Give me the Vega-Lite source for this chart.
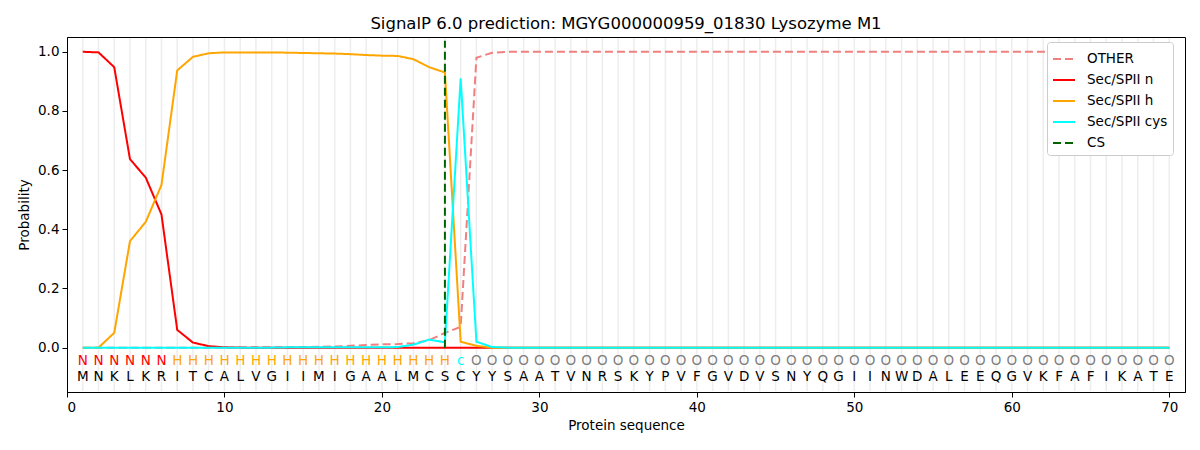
{
 "$schema": "https://vega.github.io/schema/vega-lite/v6.json",
 "width": 1118,
 "height": 355,
 "autosize": {"type": "none"},
 "padding": {"left": 67, "top": 37, "right": 15, "bottom": 58},
 "title": {"text": "SignalP 6.0 prediction: MGYG000000959_01830 Lysozyme M1", "fontSize": 16.5, "fontWeight": "normal", "font": "DejaVu Sans", "color": "black", "offset": 5},
 "config": {
  "font": "DejaVu Sans",
  "view": {"stroke": "black", "strokeWidth": 1},
  "axis": {"labelFontSize": 13.5, "titleFontSize": 13.5, "labelColor": "black", "titleColor": "black", "tickColor": "black", "domainColor": "black", "tickSize": 5, "labelPadding": 3, "titleFontWeight": "normal", "grid": false, "labelFont": "DejaVu Sans", "titleFont": "DejaVu Sans"}
 },
 "datasets": {
  "seq": [
   {"pos":1,"aa":"M","lab":"N","OTHER":0,"Sec/SPII n":1.0,"Sec/SPII h":0,"Sec/SPII cys":0},
   {"pos":2,"aa":"N","lab":"N","OTHER":0,"Sec/SPII n":0.998,"Sec/SPII h":0,"Sec/SPII cys":0},
   {"pos":3,"aa":"K","lab":"N","OTHER":0,"Sec/SPII n":0.948,"Sec/SPII h":0.05,"Sec/SPII cys":0},
   {"pos":4,"aa":"L","lab":"N","OTHER":0,"Sec/SPII n":0.637,"Sec/SPII h":0.36,"Sec/SPII cys":0},
   {"pos":5,"aa":"K","lab":"N","OTHER":0,"Sec/SPII n":0.575,"Sec/SPII h":0.425,"Sec/SPII cys":0},
   {"pos":6,"aa":"R","lab":"N","OTHER":0,"Sec/SPII n":0.45,"Sec/SPII h":0.55,"Sec/SPII cys":0},
   {"pos":7,"aa":"I","lab":"H","OTHER":0,"Sec/SPII n":0.06,"Sec/SPII h":0.937,"Sec/SPII cys":0},
   {"pos":8,"aa":"T","lab":"H","OTHER":0,"Sec/SPII n":0.017,"Sec/SPII h":0.983,"Sec/SPII cys":0},
   {"pos":9,"aa":"C","lab":"H","OTHER":0,"Sec/SPII n":0.005,"Sec/SPII h":0.995,"Sec/SPII cys":0},
   {"pos":10,"aa":"A","lab":"H","OTHER":0,"Sec/SPII n":0.001,"Sec/SPII h":0.998,"Sec/SPII cys":0},
   {"pos":11,"aa":"L","lab":"H","OTHER":0.001,"Sec/SPII n":0,"Sec/SPII h":0.998,"Sec/SPII cys":0},
   {"pos":12,"aa":"V","lab":"H","OTHER":0.001,"Sec/SPII n":0,"Sec/SPII h":0.998,"Sec/SPII cys":0},
   {"pos":13,"aa":"G","lab":"H","OTHER":0.001,"Sec/SPII n":0,"Sec/SPII h":0.998,"Sec/SPII cys":0},
   {"pos":14,"aa":"I","lab":"H","OTHER":0.001,"Sec/SPII n":0,"Sec/SPII h":0.997,"Sec/SPII cys":0.001},
   {"pos":15,"aa":"I","lab":"H","OTHER":0.002,"Sec/SPII n":0,"Sec/SPII h":0.996,"Sec/SPII cys":0.001},
   {"pos":16,"aa":"M","lab":"H","OTHER":0.003,"Sec/SPII n":0,"Sec/SPII h":0.995,"Sec/SPII cys":0.001},
   {"pos":17,"aa":"I","lab":"H","OTHER":0.004,"Sec/SPII n":0,"Sec/SPII h":0.994,"Sec/SPII cys":0.001},
   {"pos":18,"aa":"G","lab":"H","OTHER":0.006,"Sec/SPII n":0,"Sec/SPII h":0.992,"Sec/SPII cys":0.001},
   {"pos":19,"aa":"A","lab":"H","OTHER":0.009,"Sec/SPII n":0,"Sec/SPII h":0.989,"Sec/SPII cys":0.001},
   {"pos":20,"aa":"A","lab":"H","OTHER":0.011,"Sec/SPII n":0,"Sec/SPII h":0.987,"Sec/SPII cys":0.001},
   {"pos":21,"aa":"L","lab":"H","OTHER":0.012,"Sec/SPII n":0,"Sec/SPII h":0.986,"Sec/SPII cys":0.002},
   {"pos":22,"aa":"M","lab":"H","OTHER":0.015,"Sec/SPII n":0,"Sec/SPII h":0.975,"Sec/SPII cys":0.01},
   {"pos":23,"aa":"C","lab":"H","OTHER":0.025,"Sec/SPII n":0,"Sec/SPII h":0.948,"Sec/SPII cys":0.027},
   {"pos":24,"aa":"S","lab":"H","OTHER":0.05,"Sec/SPII n":0,"Sec/SPII h":0.93,"Sec/SPII cys":0.018},
   {"pos":25,"aa":"C","lab":"c","OTHER":0.07,"Sec/SPII n":0,"Sec/SPII h":0.02,"Sec/SPII cys":0.91},
   {"pos":26,"aa":"Y","lab":"O","OTHER":0.98,"Sec/SPII n":0,"Sec/SPII h":0.006,"Sec/SPII cys":0.02},
   {"pos":27,"aa":"Y","lab":"O","OTHER":0.997,"Sec/SPII n":0,"Sec/SPII h":0,"Sec/SPII cys":0.002},
   {"pos":28,"aa":"S","lab":"O","OTHER":1,"Sec/SPII n":0,"Sec/SPII h":0,"Sec/SPII cys":0},
   {"pos":29,"aa":"A","lab":"O","OTHER":1,"Sec/SPII n":0,"Sec/SPII h":0,"Sec/SPII cys":0},
   {"pos":30,"aa":"A","lab":"O","OTHER":1,"Sec/SPII n":0,"Sec/SPII h":0,"Sec/SPII cys":0},
   {"pos":31,"aa":"T","lab":"O","OTHER":1,"Sec/SPII n":0,"Sec/SPII h":0,"Sec/SPII cys":0},
   {"pos":32,"aa":"V","lab":"O","OTHER":1,"Sec/SPII n":0,"Sec/SPII h":0,"Sec/SPII cys":0},
   {"pos":33,"aa":"N","lab":"O","OTHER":1,"Sec/SPII n":0,"Sec/SPII h":0,"Sec/SPII cys":0},
   {"pos":34,"aa":"R","lab":"O","OTHER":1,"Sec/SPII n":0,"Sec/SPII h":0,"Sec/SPII cys":0},
   {"pos":35,"aa":"S","lab":"O","OTHER":1,"Sec/SPII n":0,"Sec/SPII h":0,"Sec/SPII cys":0},
   {"pos":36,"aa":"K","lab":"O","OTHER":1,"Sec/SPII n":0,"Sec/SPII h":0,"Sec/SPII cys":0},
   {"pos":37,"aa":"Y","lab":"O","OTHER":1,"Sec/SPII n":0,"Sec/SPII h":0,"Sec/SPII cys":0},
   {"pos":38,"aa":"P","lab":"O","OTHER":1,"Sec/SPII n":0,"Sec/SPII h":0,"Sec/SPII cys":0},
   {"pos":39,"aa":"V","lab":"O","OTHER":1,"Sec/SPII n":0,"Sec/SPII h":0,"Sec/SPII cys":0},
   {"pos":40,"aa":"F","lab":"O","OTHER":1,"Sec/SPII n":0,"Sec/SPII h":0,"Sec/SPII cys":0},
   {"pos":41,"aa":"G","lab":"O","OTHER":1,"Sec/SPII n":0,"Sec/SPII h":0,"Sec/SPII cys":0},
   {"pos":42,"aa":"V","lab":"O","OTHER":1,"Sec/SPII n":0,"Sec/SPII h":0,"Sec/SPII cys":0},
   {"pos":43,"aa":"D","lab":"O","OTHER":1,"Sec/SPII n":0,"Sec/SPII h":0,"Sec/SPII cys":0},
   {"pos":44,"aa":"V","lab":"O","OTHER":1,"Sec/SPII n":0,"Sec/SPII h":0,"Sec/SPII cys":0},
   {"pos":45,"aa":"S","lab":"O","OTHER":1,"Sec/SPII n":0,"Sec/SPII h":0,"Sec/SPII cys":0},
   {"pos":46,"aa":"N","lab":"O","OTHER":1,"Sec/SPII n":0,"Sec/SPII h":0,"Sec/SPII cys":0},
   {"pos":47,"aa":"Y","lab":"O","OTHER":1,"Sec/SPII n":0,"Sec/SPII h":0,"Sec/SPII cys":0},
   {"pos":48,"aa":"Q","lab":"O","OTHER":1,"Sec/SPII n":0,"Sec/SPII h":0,"Sec/SPII cys":0},
   {"pos":49,"aa":"G","lab":"O","OTHER":1,"Sec/SPII n":0,"Sec/SPII h":0,"Sec/SPII cys":0},
   {"pos":50,"aa":"I","lab":"O","OTHER":1,"Sec/SPII n":0,"Sec/SPII h":0,"Sec/SPII cys":0},
   {"pos":51,"aa":"I","lab":"O","OTHER":1,"Sec/SPII n":0,"Sec/SPII h":0,"Sec/SPII cys":0},
   {"pos":52,"aa":"N","lab":"O","OTHER":1,"Sec/SPII n":0,"Sec/SPII h":0,"Sec/SPII cys":0},
   {"pos":53,"aa":"W","lab":"O","OTHER":1,"Sec/SPII n":0,"Sec/SPII h":0,"Sec/SPII cys":0},
   {"pos":54,"aa":"D","lab":"O","OTHER":1,"Sec/SPII n":0,"Sec/SPII h":0,"Sec/SPII cys":0},
   {"pos":55,"aa":"A","lab":"O","OTHER":1,"Sec/SPII n":0,"Sec/SPII h":0,"Sec/SPII cys":0},
   {"pos":56,"aa":"L","lab":"O","OTHER":1,"Sec/SPII n":0,"Sec/SPII h":0,"Sec/SPII cys":0},
   {"pos":57,"aa":"E","lab":"O","OTHER":1,"Sec/SPII n":0,"Sec/SPII h":0,"Sec/SPII cys":0},
   {"pos":58,"aa":"E","lab":"O","OTHER":1,"Sec/SPII n":0,"Sec/SPII h":0,"Sec/SPII cys":0},
   {"pos":59,"aa":"Q","lab":"O","OTHER":1,"Sec/SPII n":0,"Sec/SPII h":0,"Sec/SPII cys":0},
   {"pos":60,"aa":"G","lab":"O","OTHER":1,"Sec/SPII n":0,"Sec/SPII h":0,"Sec/SPII cys":0},
   {"pos":61,"aa":"V","lab":"O","OTHER":1,"Sec/SPII n":0,"Sec/SPII h":0,"Sec/SPII cys":0},
   {"pos":62,"aa":"K","lab":"O","OTHER":1,"Sec/SPII n":0,"Sec/SPII h":0,"Sec/SPII cys":0},
   {"pos":63,"aa":"F","lab":"O","OTHER":1,"Sec/SPII n":0,"Sec/SPII h":0,"Sec/SPII cys":0},
   {"pos":64,"aa":"A","lab":"O","OTHER":1,"Sec/SPII n":0,"Sec/SPII h":0,"Sec/SPII cys":0},
   {"pos":65,"aa":"F","lab":"O","OTHER":1,"Sec/SPII n":0,"Sec/SPII h":0,"Sec/SPII cys":0},
   {"pos":66,"aa":"I","lab":"O","OTHER":1,"Sec/SPII n":0,"Sec/SPII h":0,"Sec/SPII cys":0},
   {"pos":67,"aa":"K","lab":"O","OTHER":1,"Sec/SPII n":0,"Sec/SPII h":0,"Sec/SPII cys":0},
   {"pos":68,"aa":"A","lab":"O","OTHER":1,"Sec/SPII n":0,"Sec/SPII h":0,"Sec/SPII cys":0},
   {"pos":69,"aa":"T","lab":"O","OTHER":1,"Sec/SPII n":0,"Sec/SPII h":0,"Sec/SPII cys":0},
   {"pos":70,"aa":"E","lab":"O","OTHER":1,"Sec/SPII n":0,"Sec/SPII h":0,"Sec/SPII cys":0}
  ],
  "cs": [{"pos": 24, "series": "CS", "y0": 0, "y1": 1.037}]
 },
 "layer": [
  {
   "data": {"name": "seq"},
   "mark": {"type": "rule", "color": "#ededed", "strokeWidth": 1.5},
   "encoding": {
    "x": {"field": "pos", "type": "quantitative", "scale": {"domain": [0, 71], "nice": false, "zero": false}, "axis": {"values": [0,10,20,30,40,50,60,70], "title": "Protein sequence", "titlePadding": 5}},
    "y": {"datum": -0.147, "type": "quantitative", "scale": {"domain": [-0.15, 1.05], "nice": false, "zero": false}},
    "y2": {"datum": 1.047}
   }
  },
  {
   "data": {"name": "seq"},
   "transform": [{"fold": ["OTHER", "Sec/SPII n", "Sec/SPII h", "Sec/SPII cys"], "as": ["series", "p"]}],
   "mark": {"type": "line", "strokeWidth": 2},
   "encoding": {
    "x": {"field": "pos", "type": "quantitative"},
    "y": {"field": "p", "type": "quantitative", "axis": {"values": [0, 0.2, 0.4, 0.6, 0.8, 1.0], "format": ".1f", "title": "Probability", "titlePadding": 6}},
    "color": {"field": "series", "type": "nominal", "scale": {"domain": ["OTHER", "Sec/SPII n", "Sec/SPII h", "Sec/SPII cys", "CS"], "range": ["#f08080", "#ff0000", "#ffa500", "#00ffff", "#006400"]},
     "legend": {"title": null, "orient": "none", "legendX": 980, "legendY": 5, "symbolType": "stroke", "symbolSize": 484, "symbolStrokeWidth": 2, "labelFontSize": 13.5, "labelFont": "DejaVu Sans", "labelColor": "black", "labelOffset": 11, "rowPadding": 2, "padding": 5, "fillColor": "white", "strokeColor": "#cccccc", "cornerRadius": 3}},
    "strokeDash": {"field": "series", "type": "nominal", "scale": {"domain": ["OTHER", "Sec/SPII n", "Sec/SPII h", "Sec/SPII cys", "CS"], "range": [[8, 4], [1, 0], [1, 0], [1, 0], [8, 4]]}, "legend": {"title": null}}
   }
  },
  {
   "data": {"name": "cs"},
   "mark": {"type": "rule", "strokeWidth": 2},
   "encoding": {
    "x": {"field": "pos", "type": "quantitative"},
    "y": {"field": "y0", "type": "quantitative"},
    "y2": {"field": "y1"},
    "color": {"field": "series", "type": "nominal"},
    "strokeDash": {"field": "series", "type": "nominal"}
   }
  },
  {
   "data": {"name": "seq"},
   "mark": {"type": "text", "fontSize": 13.5, "font": "DejaVu Sans", "baseline": "middle", "align": "center"},
   "encoding": {
    "x": {"field": "pos", "type": "quantitative"},
    "y": {"datum": -0.046},
    "text": {"field": "lab"},
    "color": {"condition": [{"test": "datum.lab === 'N'", "value": "#ff0000"}, {"test": "datum.lab === 'H'", "value": "#ffa500"}, {"test": "datum.lab === 'c'", "value": "#00ffff"}], "value": "#808080"}
   }
  },
  {
   "data": {"name": "seq"},
   "mark": {"type": "text", "fontSize": 13.5, "font": "DejaVu Sans", "baseline": "middle", "align": "center", "color": "black"},
   "encoding": {
    "x": {"field": "pos", "type": "quantitative"},
    "y": {"datum": -0.099},
    "text": {"field": "aa"}
   }
  }
 ]
}
